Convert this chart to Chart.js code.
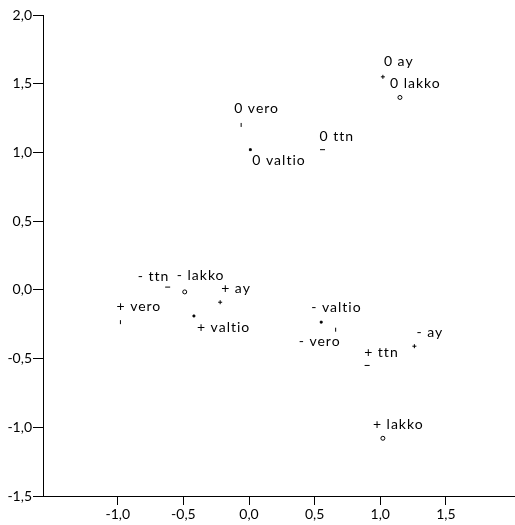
<!DOCTYPE html>
<html lang="fi">
<head>
    <meta charset="UTF-8">
    <title>Pisteet</title>
    <style>
        html, body {
            margin: 0;
            background: #fff;
            overflow: hidden;
        }
        .chart-container {
            position: relative;
            width: 522px;
            height: 525px;
        }
    </style>
</head>
<body>
    <div class="chart-container">
        <canvas id="plot"></canvas>
    </div>
    <script src="https://cdn.jsdelivr.net/npm/chart.js"></script>
    <script>
        // variables and their three levels (0, -, +)
        const variables = ['ay', 'lakko', 'vero', 'valtio', 'ttn'];
        const levels = ['0', '-', '+'];

        // coordinates, one row per variable, in order of levels
        const xValues = [
            [1.02, 1.26, -0.22],   // ay
            [1.15, -0.49, 1.02],   // lakko
            [-0.06, 0.66, -0.98],  // vero
            [0.01, 0.55, -0.42],   // valtio
            [0.56, -0.62, 0.90]    // ttn
        ];
        const yValues = [
            [1.55, -0.41, -0.09],
            [1.40, -0.015, -1.08],
            [1.20, -0.29, -0.235],
            [1.02, -0.235, -0.19],
            [1.02, 0.02, -0.55]
        ];
        const xTicks = [-1.0, -0.5, 0.0, 0.5, 1.0, 1.5];
        const yTicks = [-1.5, -1.0, -0.5, 0.0, 0.5, 1.0, 1.5, 2.0];

        // label placement relative to the marker (px)
        const labelOffsets = [
            [[1, -15], [2, -14], [1, -14]],
            [[-10, -14], [-8, -16], [-10, -14]],
            [[-7, -16], [-37, 12], [-4, -16]],
            [[2, 11], [-10, -15], [3, 12]],
            [[-3, -13], [-30, -11], [-3, -13]]
        ];
        const markers = [
            { pointStyle: 'cross', radius: 2, rotation: 0 },
            { pointStyle: 'circle', radius: 2, rotation: 0 },
            { pointStyle: 'line', radius: 2, rotation: 90 },
            { pointStyle: 'rect', radius: 1.3, rotation: 0 },
            { pointStyle: 'line', radius: 2.5, rotation: 0 }
        ];

        const fmt = v => v.toFixed(1).replace('.', ',');

        const datasets = variables.map((name, i) => ({
            label: name,
            data: levels.map((lv, j) => ({ x: xValues[i][j], y: yValues[i][j], text: lv + ' ' + name })),
            pointStyle: markers[i].pointStyle,
            pointRadius: markers[i].radius,
            pointRotation: markers[i].rotation,
            pointBorderColor: '#000',
            pointBackgroundColor: markers[i].pointStyle === 'circle' ? '#fff' : '#000',
            pointBorderWidth: 1,
            offsets: labelOffsets[i]
        }));

        const pointLabels = {
            id: 'pointLabels',
            afterDatasetsDraw(chart) {
                const ctx = chart.ctx;
                ctx.save();
                ctx.font = '14px Lato';
                ctx.letterSpacing = '1px';
                ctx.fillStyle = '#000';
                ctx.textAlign = 'left';
                ctx.textBaseline = 'middle';
                chart.data.datasets.forEach((ds, i) => {
                    chart.getDatasetMeta(i).data.forEach((pt, j) => {
                        const off = ds.offsets[j];
                        ctx.fillText(ds.data[j].text, pt.x + off[0], pt.y + off[1]);
                    });
                });
                ctx.restore();
            }
        };

        new Chart(document.getElementById('plot'), {
            type: 'scatter',
            data: { datasets: datasets },
            plugins: [pointLabels],
            options: {
                responsive: true,
                maintainAspectRatio: false,
                animation: false,
                events: [],
                layout: { padding: { top: 15, right: 0, left: 0, bottom: 0 } },
                plugins: {
                    legend: { display: false },
                    tooltip: { enabled: false }
                },
                scales: {
                    x: {
                        type: 'linear',
                        min: -1.57,
                        max: 2.042,
                        afterBuildTicks: axis => { axis.ticks = xTicks.map(v => ({ value: v })); },
                        afterFit: axis => { axis.height = 29; },
                        grid: { drawOnChartArea: false, color: '#000', tickLength: 9 },
                        border: { color: '#000', width: 1 },
                        ticks: {
                            color: '#000',
                            font: { family: 'Lato', size: 14 },
                            padding: 1,
                            maxRotation: 0,
                            callback: v => fmt(v)
                        }
                    },
                    y: {
                        type: 'linear',
                        min: -1.5,
                        max: 2.0,
                        afterBuildTicks: axis => { axis.ticks = yTicks.map(v => ({ value: v })); },
                        afterFit: axis => { axis.width = 43; },
                        grid: { drawOnChartArea: false, color: '#000', tickLength: 10 },
                        border: { color: '#000', width: 1 },
                        ticks: {
                            color: '#000',
                            font: { family: 'Lato', size: 14 },
                            padding: 1,
                            callback: v => fmt(v)
                        }
                    }
                }
            }
        });
    </script>
</body>
</html>
